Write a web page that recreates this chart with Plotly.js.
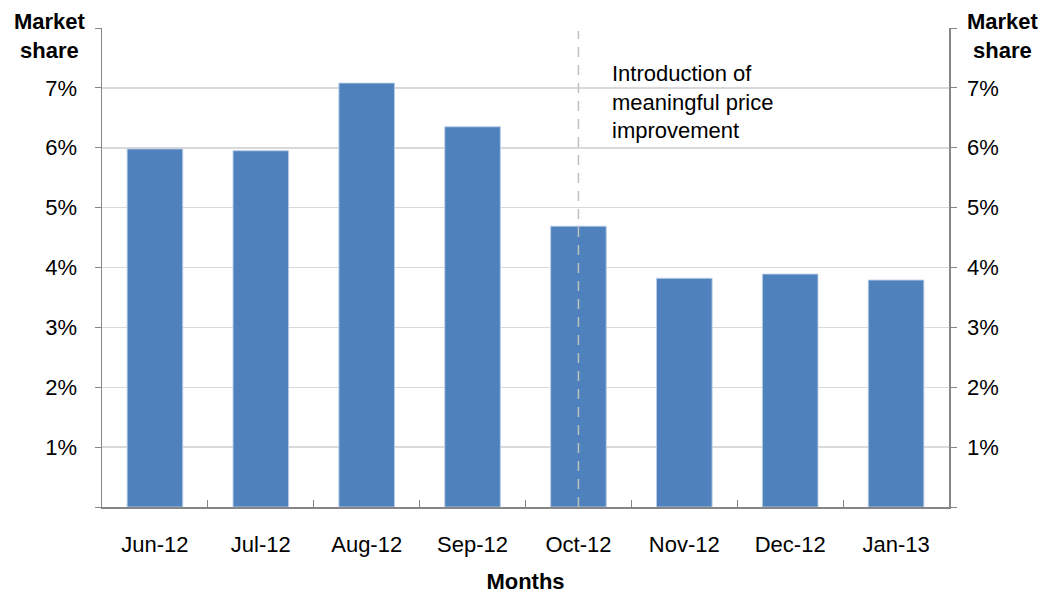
<!DOCTYPE html>
<html>
<head>
<meta charset="utf-8">
<script src="https://cdn.plot.ly/plotly-3.0.1.min.js"></script>
<style>html,body{margin:0;padding:0;background:#fff;}#chart{width:1050px;height:594px;}</style>
</head>
<body>
<div id="chart"></div>
<script>
const months = ["Jun-12","Jul-12","Aug-12","Sep-12","Oct-12","Nov-12","Dec-12","Jan-13"];
const marketShare = [5.98, 5.95, 7.08, 6.35, 4.69, 3.82, 3.89, 3.79];
const tickValues = [0,1,2,3,4,5,6,7,8];
const tickLabels = ["","1%","2%","3%","4%","5%","6%","7%",""];
const eventMonth = "Oct-12";
const eventLabel = "Introduction of<br>meaningful price<br>improvement";

const font = {family: "Liberation Sans, Arial, sans-serif", size: 22, color: "#000"};
const axisColor = "#868686";

const yCommon = {
  range: [0, 8],
  tickmode: "array",
  tickvals: tickValues,
  ticktext: tickLabels,
  ticks: "outside",
  ticklen: 6,
  tickcolor: axisColor,
  showline: true,
  linecolor: axisColor,
  linewidth: 1.5,
  zeroline: false,
  tickfont: font,
  fixedrange: true
};

const data = [
  {
    type: "bar",
    x: months,
    y: marketShare,
    marker: {color: "#4F81BD", line: {color: "rgba(185,205,229,0.9)", width: 1}},
    hoverinfo: "skip"
  },
  {
    type: "scatter",
    x: months,
    y: marketShare,
    yaxis: "y2",
    mode: "none",
    showlegend: false,
    hoverinfo: "skip"
  }
];

const layout = {
  width: 1050,
  height: 594,
  margin: {l: 102, r: 101, t: 28, b: 87},
  paper_bgcolor: "#fff",
  plot_bgcolor: "#fff",
  showlegend: false,
  bargap: 0.475,
  font: font,
  xaxis: {
    type: "category",
    tickson: "boundaries",
    ticks: "inside",
    ticklen: 7,
    tickcolor: axisColor,
    showline: true,
    linecolor: axisColor,
    linewidth: 1.5,
    showgrid: false,
    tickfont: font,
    ticklabelstandoff: 17,
    title: {text: "<b>Months</b>", font: font, standoff: 19},
    fixedrange: true
  },
  yaxis: Object.assign({}, yCommon, {
    showgrid: true,
    gridcolor: "#D9D9D9",
    gridwidth: 1.5,
    ticklabelstandoff: 13
  }),
  yaxis2: Object.assign({}, yCommon, {
    overlaying: "y",
    side: "right",
    showgrid: false,
    ticklabelstandoff: 6
  }),
  shapes: [
    {
      type: "line",
      xref: "x",
      yref: "y",
      x0: eventMonth,
      x1: eventMonth,
      y0: 0,
      y1: 7.95,
      line: {color: "#BFBFBF", width: 1.5, dash: "10px,8px"}
    }
  ],
  annotations: [
    {
      text: eventLabel,
      xref: "paper", yref: "y",
      x: 0.6, y: 6.77,
      xanchor: "left", yanchor: "middle",
      align: "left",
      showarrow: false,
      font: font
    },
    {
      text: "<b>Market<br>share</b>",
      xref: "paper", yref: "paper",
      x: -0.0165, y: 0.983,
      xanchor: "right", yanchor: "middle",
      align: "center",
      showarrow: false,
      font: font
    },
    {
      text: "<b>Market<br>share</b>",
      xref: "paper", yref: "paper",
      x: 1.0638, y: 0.983,
      xanchor: "center", yanchor: "middle",
      align: "center",
      showarrow: false,
      font: font
    }
  ]
};

Plotly.newPlot("chart", data, layout, {displayModeBar: false, staticPlot: true});
</script>
</body>
</html>
